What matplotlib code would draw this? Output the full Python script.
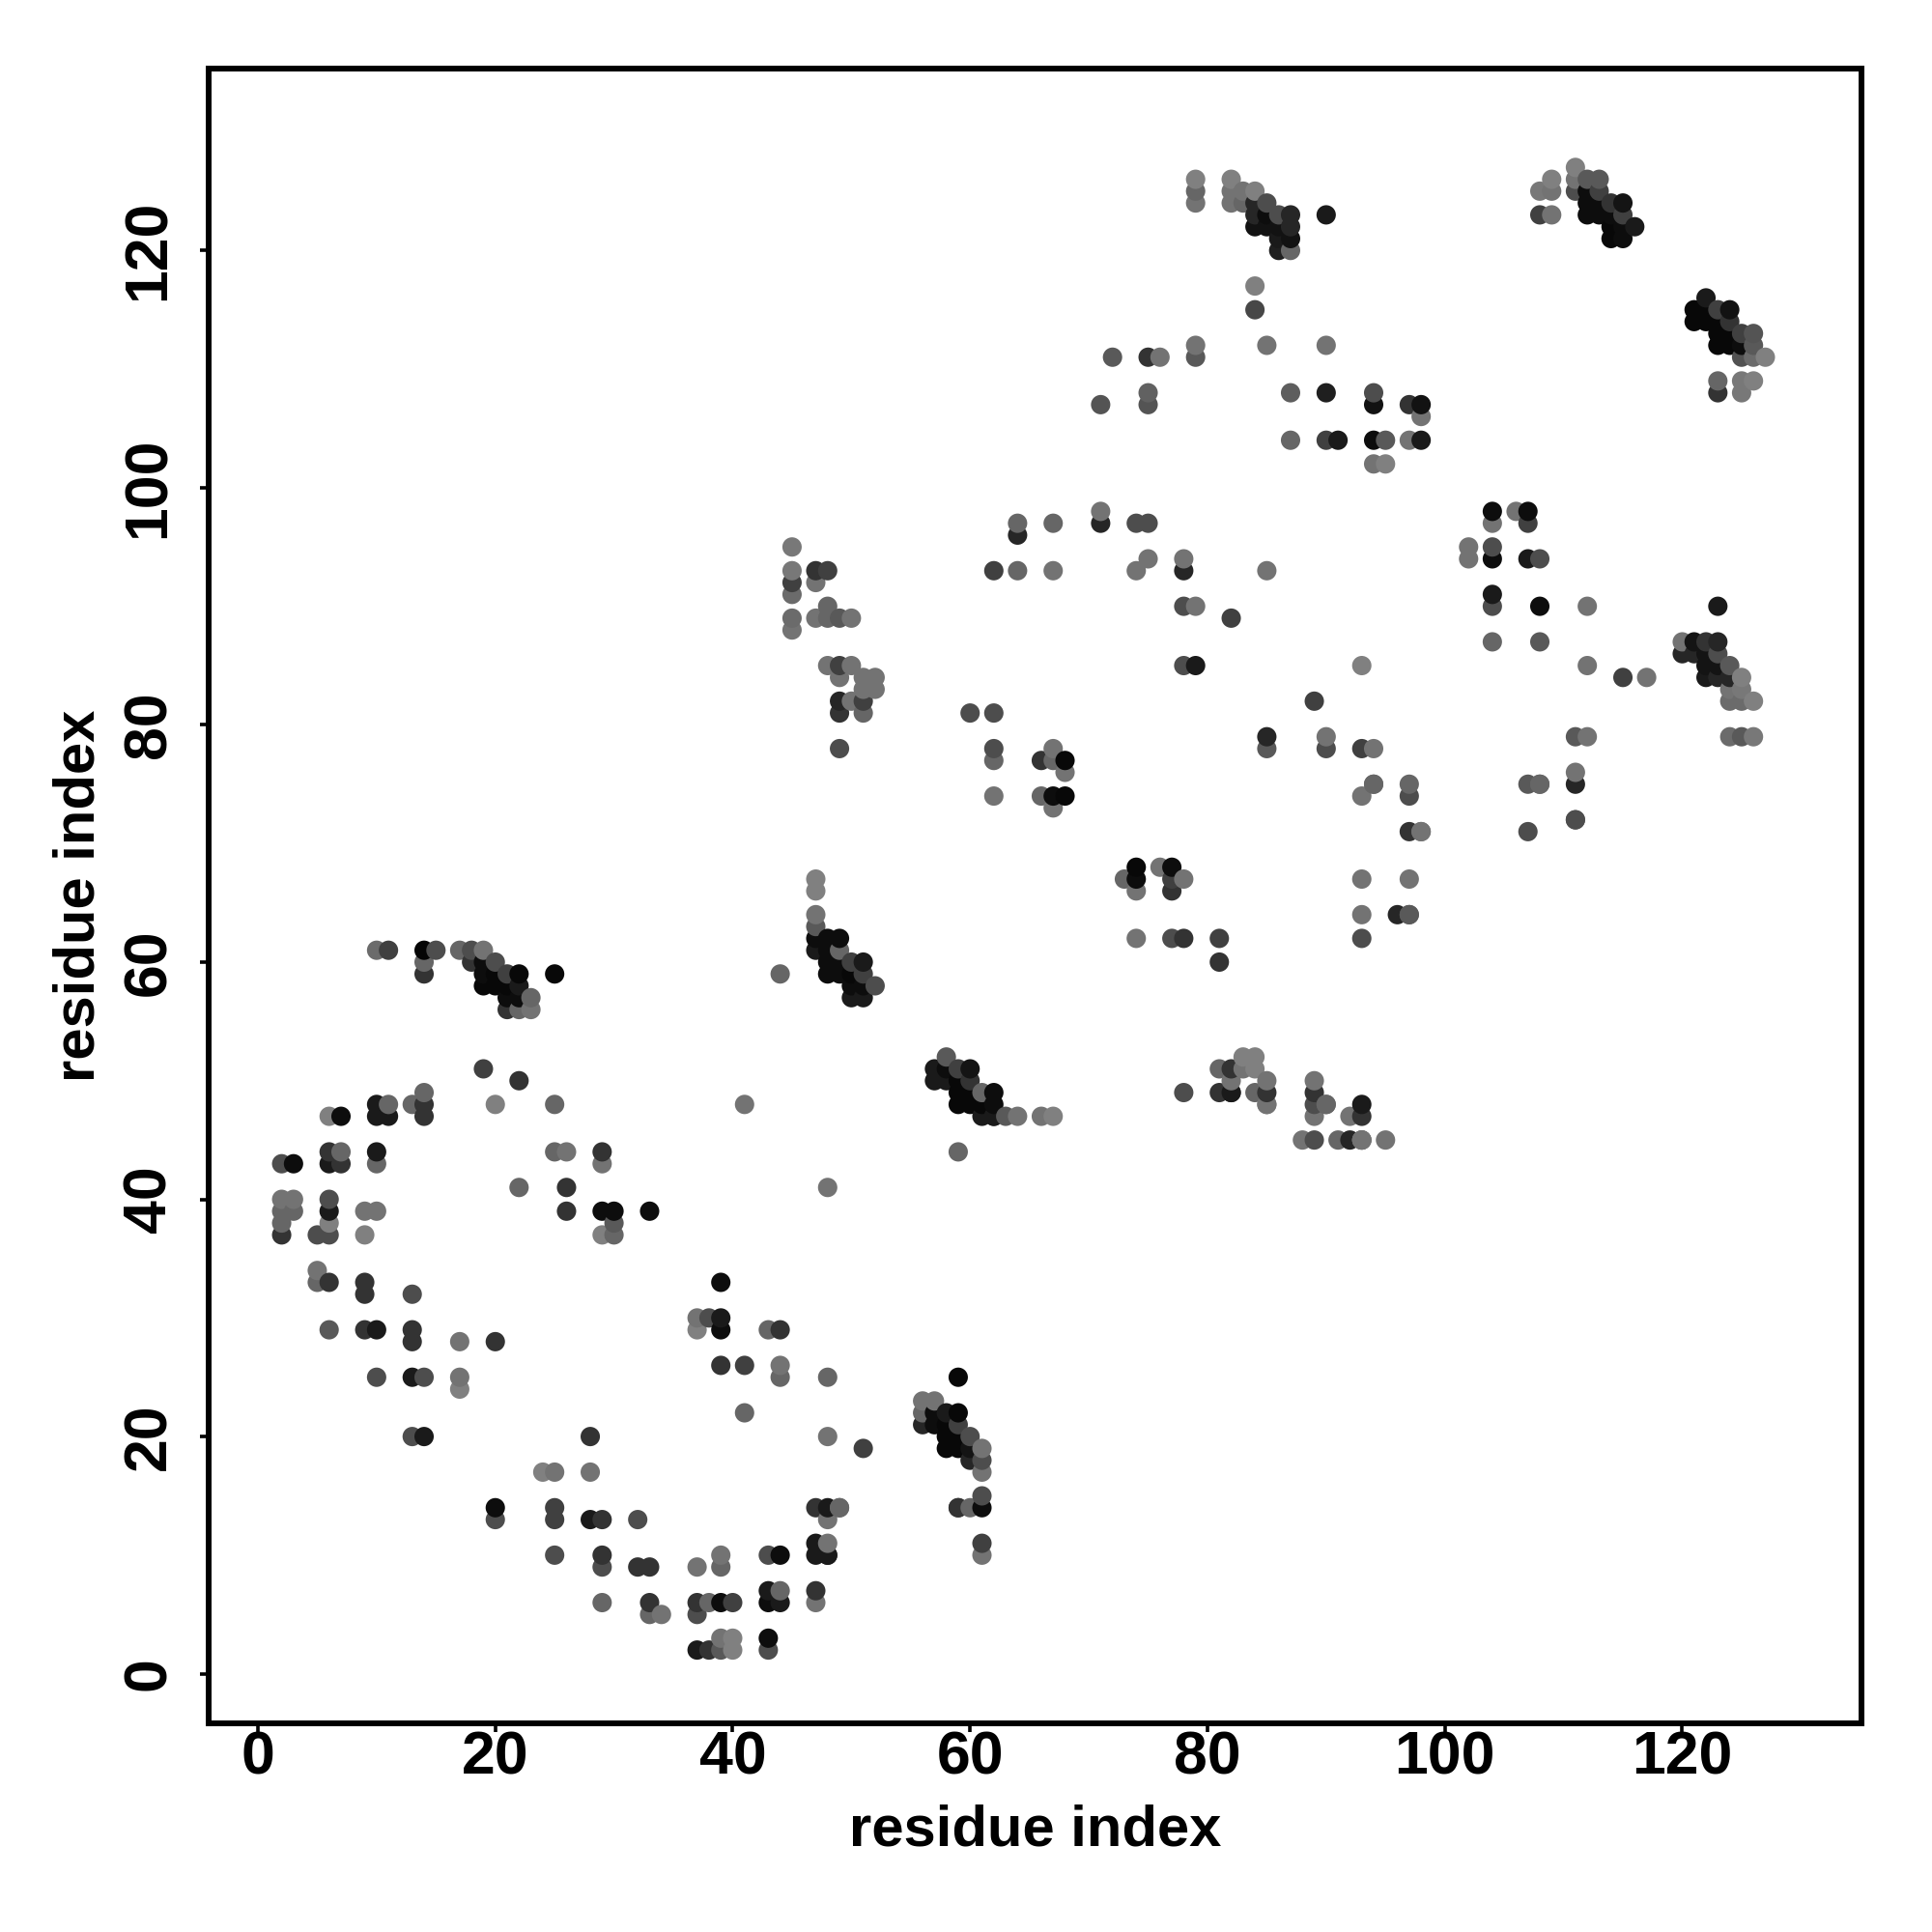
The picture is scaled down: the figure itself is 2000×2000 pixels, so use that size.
'''
Contact map of residue pairs, drawn as grey dots
'''
import matplotlib
matplotlib.use("Agg")
import matplotlib.pyplot as plt

plt.rcParams["font.family"] = ["Liberation Sans", "DejaVu Sans"]

# residue index on x, one row per x value
x_res = [2]*5 + [3]*3 + [5]*3 + [6]*9 + [7]*3 + [9]*5 + [10]*8 + [11]*3 + [13]*6 + [14]*8 + [15]*1 \
    + [17]*4 + [18]*2 + [19]*5 + [20]*7 + [21]*4 + [22]*6 + [23]*2 + [24]*1 + [25]*7 + [26]*3 \
    + [28]*3 + [29]*8 + [30]*3 + [32]*2 + [33]*4 + [34]*1 + [37]*6 + [38]*3 + [39]*9 + [40]*3 \
    + [41]*3 + [43]*6 + [44]*7 + [45]*6 + [47]*14 + [48]*16 + [49]*12 + [50]*7 + [51]*9 + [52]*3 \
    + [56]*3 + [57]*5 + [58]*7 + [59]*12 + [60]*9 + [61]*10 + [62]*9 + [63]*1 + [64]*4 + [66]*3 + [67]*7 \
    + [68]*3 + [71]*3 + [72]*1 + [73]*1 + [74]*6 + [75]*5 + [76]*2 + [77]*4 + [78]*7 + [79]*7 \
    + [81]*4 + [82]*8 + [83]*4 + [84]*9 + [85]*11 + [86]*4 + [87]*6 + [88]*1 + [89]*6 + [90]*8 + [91]*2 \
    + [92]*2 + [93]*11 + [94]*7 + [95]*3 + [96]*1 + [97]*8 + [98]*5 + [102]*2 + [104]*7 + [106]*1 \
    + [107]*5 + [108]*7 + [109]*3 + [111]*8 + [112]*7 + [113]*4 + [114]*4 + [115]*5 + [116]*1 + [117]*1 \
    + [120]*2 + [121]*4 + [122]*7 + [123]*11 + [124]*9 + [125]*9 + [126]*6 + [127]*1

# residue index on y, same order
y_res = [
    43, 40, 39, 38, 37,
    43, 40, 39,
    37, 34, 33,
    47, 44, 43, 40, 39, 38, 37, 33, 29,
    47, 44, 43,
    39, 37, 33, 32, 29,
    61, 48, 47, 44, 43, 39, 29, 25,
    61, 48, 47,
    48, 32, 29, 28, 25, 20,
    61, 60, 59, 49, 48, 47, 25, 20,
    61,
    61, 28, 25, 24,
    61, 60,
    61, 60, 59, 58, 51,
    60, 59, 58, 48, 28, 14, 13,
    59, 58, 57, 56,
    59, 58, 57, 56, 50, 41,
    57, 56,
    17,
    59, 48, 44, 17, 14, 13, 10,
    44, 41, 39,
    20, 17, 13,
    44, 43, 39, 37, 13, 10, 9, 6,
    39, 38, 37,
    13, 9,
    39, 9, 6, 5,
    5,
    30, 29, 9, 6, 5, 2,
    30, 6, 2,
    33, 30, 29, 26, 10, 9, 6, 3, 2,
    6, 3, 2,
    48, 26, 22,
    29, 10, 7, 6, 3, 2,
    59, 29, 26, 25, 10, 7, 6,
    95, 93, 92, 91, 89, 88,
    93, 92, 89, 67, 66, 64, 63, 62, 61, 14, 11, 10, 7, 6,
    93, 90, 89, 85, 62, 61, 60, 59, 41, 25, 20, 14, 13, 11, 10, 10,
    89, 85, 84, 82, 81, 78, 62, 61, 60, 59, 14, 14,
    89, 85, 82, 60, 59, 58, 57,
    84, 83, 82, 81, 60, 59, 58, 57, 19,
    84, 83, 58,
    23, 22, 21,
    51, 50, 23, 22, 21,
    52, 51, 50, 22, 21, 20, 19,
    51, 50, 49, 48, 44, 25, 22, 21, 20, 19, 14, 14,
    81, 51, 50, 49, 48, 20, 19, 18, 14,
    49, 48, 47, 19, 18, 17, 15, 14, 11, 10,
    93, 81, 78, 77, 74, 49, 48, 47, 47,
    47,
    97, 96, 93, 47,
    77, 74, 47,
    97, 93, 78, 77, 74, 73, 47,
    77, 76, 74,
    107, 98, 97,
    111,
    67,
    97, 93, 68, 67, 66, 62,
    111, 108, 107, 97, 94,
    111, 68,
    68, 67, 66, 62,
    94, 93, 90, 85, 67, 62, 49,
    126, 125, 124, 112, 111, 90, 85,
    62, 60, 51, 49,
    126, 125, 124, 89, 51, 50, 49, 49,
    125, 124, 52, 51,
    125, 124, 123, 122, 117, 115, 52, 51, 49,
    124, 123, 122, 112, 93, 79, 78, 50, 49, 48, 48,
    123, 122, 121, 120,
    123, 122, 121, 120, 108, 104,
    45,
    82, 50, 49, 48, 47, 45,
    123, 112, 108, 104, 79, 78, 48, 48,
    104, 45,
    47, 45,
    85, 78, 74, 67, 64, 62, 48, 47, 45, 45, 45,
    108, 107, 104, 102, 78, 75, 75,
    104, 102, 45,
    64,
    107, 104, 75, 74, 71, 67, 64, 64,
    107, 106, 104, 71, 71,
    95, 94,
    98, 97, 95, 94, 91, 90, 87,
    98,
    98, 97, 94, 75, 71,
    125, 123, 94, 90, 87, 75, 75,
    126, 125, 123,
    127, 126, 125, 79, 76, 75, 72, 72,
    126, 125, 124, 123, 90, 85, 79,
    126, 125, 124, 123,
    124, 123, 122, 121,
    124, 123, 122, 121, 84,
    122,
    84,
    87, 86,
    115, 114, 87, 86,
    116, 115, 114, 87, 86, 85, 84,
    115, 114, 113, 112, 109, 108, 90, 87, 86, 85, 84,
    115, 114, 113, 112, 85, 84, 83, 82, 79,
    113, 112, 111, 109, 108, 84, 83, 82, 79,
    113, 112, 111, 109, 82, 79,
    111,
]

# grey level of each dot, same order
shade = [
    .3, .45, .4, .4, .2,
    .05, .45, .4,
    .3, .45, .4,
    .5, .2, .1, .3, .1, .5, .3, .2, .35,
    .05, .4, .2,
    .45, .5, .2, .2, .2,
    .42, .1, .1, .1, .4, .45, .1, .3,
    .25, .4, .1,
    .4, .3, .2, .2, .1, .3,
    .02, .4, .2, .4, .2, .2, .3, .1,
    .3,
    .4, .45, .45, .5,
    .3, .2,
    .45, .05, .05, .03, .25,
    .3, .03, .03, .5, .2, .05, .3,
    .25, .03, .05, .2,
    .03, .1, .05, .4, .2, .4,
    .4, .45,
    .5,
    .03, .4, .4, .45, .25, .25, .3,
    .45, .2, .2,
    .2, .45, .1,
    .2, .45, .05, .5, .2, .2, .3, .4,
    .05, .35, .4,
    .3, .2,
    .05, .2, .2, .4,
    .45,
    .45, .5, .45, .2, .3, .1,
    .3, .4, .2,
    .05, .1, .05, .2, .45, .4, .05, .45, .35,
    .25, .5, .5,
    .45, .25, .4,
    .4, .3, .1, .05, .05, .3,
    .4, .2, .45, .4, .05, .4, .1,
    .47, .47, .25, .42, .42, .45,
    .2, .45, .45, .5, .5, .45, .35, .05, .1, .2, .1, .1, .2, .45,
    .25, .4, .4, .45, .05, .05, .05, .05, .45, .4, .45, .1, .45, .45, .1, .1,
    .35, .25, .45, .15, .2, .3, .05, .4, .05, .05, .4, .4,
    .45, .45, .45, .25, .03, .05, .1,
    .45, .45, .25, .4, .1, .25, .05, .1, .25,
    .45, .45, .3,
    .45, .4, .15,
    .1, .1, .45, .05, .05,
    .35, .05, .1, .1, .03, .03, .03,
    .25, .03, .03, .03, .4, .03, .03, .25, .03, .03, .2, .2,
    .3, .08, .2, .03, .03, .3, .08, .15, .4,
    .4, .03, .1, .45, .3, .45, .3, .05, .25, .45,
    .25, .3, .3, .4, .45, .05, .05, .1, .1,
    .35,
    .4, .15, .4, .45,
    .2, .4, .45,
    .4, .45, .45, .4, .05, .45, .5,
    .03, .45, .03,
    .33, .45, .15,
    .35,
    .4,
    .3, .45, .03, .05, .45, .45,
    .2, .38, .33, .3, .45,
    .45, .45,
    .05, .25, .2, .3,
    .45, .15, .3, .3, .45, .2, .3,
    .5, .4, .45, .45, .35, .45, .1,
    .25, .2, .4, .2,
    .5, .45, .45, .25, .2, .45, .2, .1,
    .45, .4, .5, .45,
    .5, .15, .15, .07, .5, .28, .5, .5, .4,
    .3, .05, .07, .45, .45, .15, .35, .45, .2, .45, .45,
    .3, .07, .1, .12,
    .15, .15, .07, .4, .37, .4,
    .45,
    .25, .45, .2, .3, .45, .3,
    .1, .45, .12, .25, .45, .3, .4, .4,
    .1, .4,
    .45, .15,
    .5, .25, .45, .45, .45, .3, .1, .2, .45, .45, .45,
    .3, .07, .05, .45, .45, .4, .4,
    .35, .5, .45,
    .15,
    .2, .45, .4, .3, .2, .45, .35, .35,
    .07, .45, .1, .45, .45,
    .45, .45,
    .05, .45, .3, .05, .1, .3, .4,
    .45,
    .05, .25, .1, .35, .3,
    .47, .25, .3, .05, .35, .4, .4,
    .5, .45, .45,
    .5, .45, .3, .35, .45, .15, .3, .3,
    .35, .05, .05, .05, .45, .45, .45,
    .35, .25, .05, .05,
    .2, .05, .03, .03,
    .08, .25, .05, .05, .25,
    .1,
    .45,
    .45, .15,
    .03, .03, .08, .15,
    .1, .03, .03, .2, .08, .08, .1,
    .25, .03, .03, .03, .4, .2, .1, .15, .3, .08, .15,
    .07, .2, .03, .03, .35, .15, .45, .42, .42,
    .25, .05, .32, .47, .47, .5, .47, .42, .35,
    .33, .35, .42, .5, .5, .47,
    .5,
]

x_ticks = [0, 20, 40, 60, 80, 100, 120]
y_ticks = [0, 20, 40, 60, 80, 100, 120]

# later residues are drawn on top
order = sorted(range(len(x_res)), key=lambda i: (x_res[i], y_res[i]))

fig = plt.figure(figsize=(10, 10), dpi=200)
ax = fig.add_axes([0.108, 0.108, 0.8555, 0.8563])

ax.scatter([x_res[i] for i in order], [y_res[i] for i in order],
           c=[str(shade[i]) for i in order], s=52, linewidths=0, clip_on=False)

ax.set_xlim(-4.15, 135.1)
ax.set_ylim(-4.18, 135.3)
ax.set_xticks(x_ticks)
ax.set_yticks(y_ticks)
ax.tick_params(width=1.3, length=3.2, labelsize=22.5)
ax.tick_params(axis="x", pad=-1)
ax.tick_params(axis="y", pad=8.3)
plt.setp(ax.get_xticklabels(), fontweight="bold")
plt.setp(ax.get_yticklabels(), fontweight="bold", rotation=90, va="center")
ax.set_xlabel("residue index", fontsize=21.5, fontweight="bold", labelpad=6.5)
ax.set_ylabel("residue index", fontsize=21.5, fontweight="bold", labelpad=5.6)
for side in ax.spines.values():
    side.set_linewidth(2.15)

fig.savefig("out.png")
